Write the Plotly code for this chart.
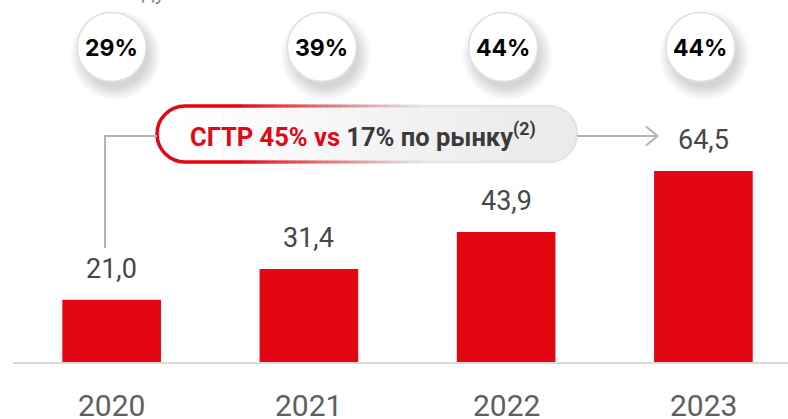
import plotly.graph_objects as go

# ---------------- data ----------------
years = ["2020", "2021", "2022", "2023"]
values = [21.0, 31.4, 43.9, 64.5]
value_labels = ["21,0", "31,4", "43,9", "64,5"]
shares = ["29%", "39%", "44%", "44%"]
cagr_company = "45%"
cagr_market = "17%"
top_caption = "по году"

# ---------------- layout constants ----------------
W, H = 788, 419
ML, MR, MT, MB = 13, 0, 0, 57
PW, PH = W - ML - MR, H - MT - MB
X_RANGE = [-0.5, 3.4288]
Y_RANGE = [0, 122.3]
RED = "#e30613"
GREY_LINE = "#b3b3b3"


def pxx(x):  # pixel x -> paper x
    return (x - ML) / PW


def pxy(y):  # pixel y (from top) -> paper y
    return (H - MB - y) / PH


fig = go.Figure()
fig.add_trace(go.Bar(
    x=list(range(len(years))), y=values, width=0.5,
    marker=dict(color=RED, line=dict(width=0)),
    hoverinfo="skip", showlegend=False,
))

shapes = []
annotations = []

# value labels above bars
for i, (v, lab) in enumerate(zip(values, value_labels)):
    annotations.append(dict(
        x=i, y=v, xref="x", yref="y", text=lab, showarrow=False,
        yanchor="middle", yshift=31,
        font=dict(family="Roboto", size=27, color="#474747"),
    ))

# year labels under the axis
for i, yr in enumerate(years):
    annotations.append(dict(
        x=i, xref="x", y=0, yref="paper", yshift=-43, text=yr, showarrow=False,
        yanchor="middle", xanchor="center",
        font=dict(family="Roboto", size=30, color="#5f5f5f"),
    ))

# share bubbles
share_offsets_px = [0, 13, -3, -3]
R = 34.5
CY = 47
for i, (s, off) in enumerate(zip(shares, share_offsets_px)):
    # soft shadow
    for k in range(14, 0, -1):
        shapes.append(dict(
            type="circle", xref="x", yref="paper", xsizemode="pixel", ysizemode="pixel",
            xanchor=i, yanchor=1,
            x0=off + 4 - R - k + 3, x1=off + 4 + R + k - 3,
            y0=-CY - 8 - R - k + 3, y1=-CY - 8 + R + k - 3,
            fillcolor="rgba(0,0,0,0.013)", line=dict(width=0), layer="above",
        ))
    shapes.append(dict(
        type="circle", xref="x", yref="paper", xsizemode="pixel", ysizemode="pixel",
        xanchor=i, yanchor=1,
        x0=off - R, x1=off + R, y0=-CY - R, y1=-CY + R,
        fillcolor="white", line=dict(color="#e0e0e0", width=1.5), layer="above",
    ))
    annotations.append(dict(
        x=i, xref="x", y=1, yref="paper", xshift=off, yshift=-CY - 1,
        text=s, showarrow=False, yanchor="middle", xanchor="center",
        font=dict(family="Inter", size=23, color="#000000", weight="bold"),
    ))

# ---------------- CAGR pill ----------------
L, Rr, T, B = 157, 577, 106, 162
r = (B - T) / 2
cy = (T + B) / 2
kk = 0.5523 * r


def P(x, y):
    return f"{pxx(x):.5f},{pxy(y):.5f}"


pill_path = (
    f"M {P(L + r, T)} L {P(Rr - r, T)} "
    f"C {P(Rr - r + kk, T)} {P(Rr, cy - kk)} {P(Rr, cy)} "
    f"C {P(Rr, cy + kk)} {P(Rr - r + kk, B)} {P(Rr - r, B)} "
    f"L {P(L + r, B)} "
    f"C {P(L + r - kk, B)} {P(L, cy + kk)} {P(L, cy)} "
    f"C {P(L, cy - kk)} {P(L + r - kk, T)} {P(L + r, T)} Z"
)
shapes.append(dict(type="path", xref="paper", yref="paper", path=pill_path,
                   fillcolor="#ebebeb", line=dict(width=0), layer="above"))
# white-to-grey gradient approximation
NS = 36
xs0, xs1 = 160, 540
for j in range(NS):
    a = 1 - j / NS
    x0 = xs0 + (xs1 - xs0) * j / NS
    x1 = xs0 + (xs1 - xs0) * (j + 1) / NS
    shapes.append(dict(type="rect", xref="paper", yref="paper",
                       x0=pxx(x0), x1=pxx(x1), y0=pxy(B - 1), y1=pxy(T + 1),
                       fillcolor=f"rgba(255,255,255,{a:.3f})", line=dict(width=0), layer="above"))
# light outline
shapes.append(dict(type="path", xref="paper", yref="paper", path=pill_path,
                   fillcolor="rgba(0,0,0,0)", line=dict(color="#e4e4e4", width=2.5), layer="above"))
# red left part
xa = 235
red_path = (
    f"M {P(xa, T)} L {P(L + r, T)} "
    f"C {P(L + r - kk, T)} {P(L, cy - kk)} {P(L, cy)} "
    f"C {P(L, cy + kk)} {P(L + r - kk, B)} {P(L + r, B)} "
    f"L {P(xa, B)}"
)
shapes.append(dict(type="path", xref="paper", yref="paper", path=red_path,
                   fillcolor="rgba(0,0,0,0)", line=dict(color=RED, width=3.5), layer="above"))
# fading border segments
c0 = (227, 6, 19)
c1 = (228, 228, 228)
NG = 28
xg0, xg1 = xa, 420
for j in range(NG):
    t = (j + 0.5) / NG
    col = "rgb({},{},{})".format(*[int(c0[m] + (c1[m] - c0[m]) * t) for m in range(3)])
    x0 = xg0 + (xg1 - xg0) * j / NG - 0.3
    x1 = xg0 + (xg1 - xg0) * (j + 1) / NG + 0.3
    w = 3.5 - 1.0 * t
    for yy in (T, B):
        shapes.append(dict(type="line", xref="paper", yref="paper",
                           x0=pxx(x0), x1=pxx(x1), y0=pxy(yy), y1=pxy(yy),
                           line=dict(color=col, width=w), layer="above"))

annotations.append(dict(
    x=pxx(188), y=pxy(cy + 1), xref="paper", yref="paper", xanchor="left", yanchor="middle",
    showarrow=False,
    text=(f"<span style='color:{RED}'>СГТР {cagr_company} vs</span> "
          f"{cagr_market} по рынку<sup>(2)</sup>"),
    font=dict(family="Roboto", size=25.5, color="#3a3a3a", weight="bold"),
))

# connectors
LY = 136
shapes.append(dict(type="path", xref="paper", yref="paper",
                   path=f"M {P(105, 248)} L {P(105, LY)} L {P(L, LY)}",
                   fillcolor="rgba(0,0,0,0)", line=dict(color=GREY_LINE, width=2), layer="above"))
shapes.append(dict(type="line", xref="paper", yref="paper",
                   x0=pxx(Rr), x1=pxx(657), y0=pxy(LY), y1=pxy(LY),
                   line=dict(color=GREY_LINE, width=2), layer="above"))
shapes.append(dict(type="path", xref="paper", yref="paper",
                   path=f"M {P(646, LY - 9.5)} L {P(657.5, LY)} L {P(646, LY + 9.5)}",
                   fillcolor="rgba(0,0,0,0)", line=dict(color=GREY_LINE, width=2), layer="above"))

# cropped caption at the very top
annotations.append(dict(
    x=pxx(128), y=pxy(-1), xref="paper", yref="paper", xanchor="center", yanchor="bottom",
    yshift=-7, showarrow=False, text=top_caption,
    font=dict(family="Roboto", size=22, color="#8c8c8c"),
))

fig.update_layout(
    width=W, height=H, margin=dict(l=ML, r=MR, t=MT, b=MB, autoexpand=False),
    paper_bgcolor="white", plot_bgcolor="white",
    xaxis=dict(range=X_RANGE, tickvals=list(range(len(years))), ticktext=[""] * len(years),
               showgrid=False, zeroline=False, showline=True, linecolor="#d9d9d9", linewidth=1.5,
               ticks="", showticklabels=False, automargin=False, fixedrange=True),
    yaxis=dict(range=Y_RANGE, visible=False, automargin=False, fixedrange=True),
    shapes=shapes, annotations=annotations, showlegend=False,
    bargap=0.5,
)

fig.write_html("out.html", config={"displayModeBar": False},
               post_script="document.body.style.margin='0';document.body.style.overflow='hidden';")
